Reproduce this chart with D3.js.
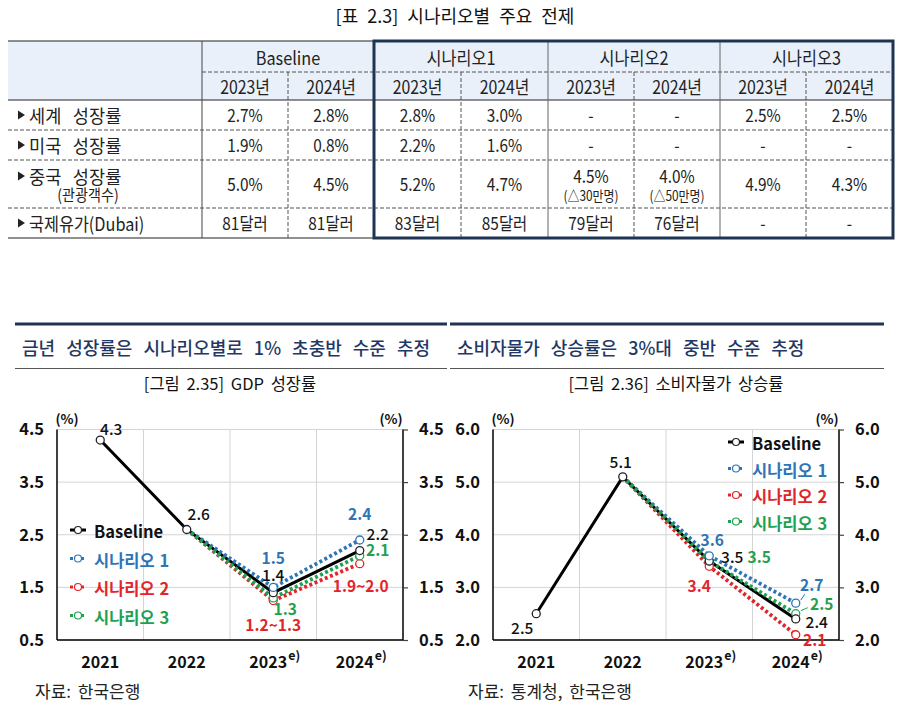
<!DOCTYPE html>
<html><head><meta charset="utf-8">
<script src="https://cdn.jsdelivr.net/npm/d3@7"></script>
<style>body{margin:0;background:#fff} svg{display:block}</style>
</head><body><svg id="c" width="909" height="710"></svg>
<script>
// ---------- DATA ----------
const tableTitle = "[표 2.3] 시나리오별 주요 전제";
const tableGroups = ["Baseline", "시나리오1", "시나리오2", "시나리오3"];
const tableYears = ["2023년", "2024년"];
const tableRowLabels = ["세계 성장률", "미국 성장률", "중국 성장률", "국제유가(Dubai)"];
const tableRowSubLabels = ["", "", "(관광객수)", ""];
const tableValues = [
  ["2.7%", "2.8%", "2.8%", "3.0%", "-", "-", "2.5%", "2.5%"],
  ["1.9%", "0.8%", "2.2%", "1.6%", "-", "-", "-", "-"],
  ["5.0%", "4.5%", "5.2%", "4.7%", "4.5%", "4.0%", "4.9%", "4.3%"],
  ["81달러", "81달러", "83달러", "85달러", "79달러", "76달러", "-", "-"]
];
const tableNotes = [
  ["", "", "", "", "", "", "", ""],
  ["", "", "", "", "", "", "", ""],
  ["", "", "", "", "(△30만명)", "(△50만명)", "", ""],
  ["", "", "", "", "", "", "", ""]
];

const years = ["2021", "2022", "2023", "2024"];
const yearSup = ["", "", "e)", "e)"];
const seriesNames = ["Baseline", "시나리오 1", "시나리오 2", "시나리오 3"];

const gdpHeading = "금년 성장률은 시나리오별로 1% 초충반 수준 추정";
const gdpTitle = "[그림 2.35] GDP 성장률";
const gdpSource = "자료: 한국은행";
const gdpTicks = [0.5, 1.5, 2.5, 3.5, 4.5];
const gdpBaseline = [4.3, 2.6, 1.4, 2.2];
const gdpScenario1 = [null, 2.6, 1.5, 2.4];
const gdpScenario2 = [null, 2.6, 1.25, 1.95];
const gdpScenario3 = [null, 2.6, 1.3, 2.1];
const gdpLabelsBaseline = ["4.3", "2.6", "1.4", "2.2"];
const gdpLabelsScenario1 = ["", "", "1.5", "2.4"];
const gdpLabelsScenario2 = ["", "", "1.2~1.3", "1.9~2.0"];
const gdpLabelsScenario3 = ["", "", "1.3", "2.1"];

const cpiHeading = "소비자물가 상승률은 3%대 중반 수준 추정";
const cpiTitle = "[그림 2.36] 소비자물가 상승률";
const cpiSource = "자료: 통계청, 한국은행";
const cpiTicks = [2.0, 3.0, 4.0, 5.0, 6.0];
const cpiBaseline = [2.5, 5.1, 3.5, 2.4];
const cpiScenario1 = [null, 5.1, 3.6, 2.7];
const cpiScenario2 = [null, 5.1, 3.4, 2.1];
const cpiScenario3 = [null, 5.1, 3.5, 2.5];
const cpiLabelsBaseline = ["2.5", "5.1", "3.5", "2.4"];
const cpiLabelsScenario1 = ["", "", "3.6", "2.7"];
const cpiLabelsScenario2 = ["", "", "3.4", "2.1"];
const cpiLabelsScenario3 = ["", "", "3.5", "2.5"];

// ---------- STYLE ----------
const FONT = "'Noto Sans CJK KR','Noto Sans',sans-serif";
const NAVY = "#1f3452";
const colors = ["#000000", "#2e75b6", "#e0262b", "#1fa152"];

const svg = d3.select("#c");

function ntext(g, x, y, str, opts = {}) {
  return g.append("g").attr("transform", `translate(${x},${y}) scale(${opts.sx || 0.9},1)`)
    .append("text")
    .attr("text-anchor", opts.anchor || "middle")
    .attr("dominant-baseline", "central")
    .attr("font-family", FONT)
    .attr("font-size", opts.size || 17)
    .attr("font-weight", opts.weight || 400)
    .attr("fill", opts.fill || "#222")
    .attr("word-spacing", opts.ws || null)
    .text(str);
}
function ptext(g, x, y, str, opts = {}) {
  return g.append("text").attr("x", x).attr("y", y)
    .attr("text-anchor", opts.anchor || "start")
    .attr("dominant-baseline", "central")
    .attr("font-family", FONT).attr("font-size", opts.size || 16)
    .attr("font-weight", opts.weight || 400)
    .attr("fill", opts.fill || "#222")
    .attr("word-spacing", opts.ws || null)
    .text(str);
}

// ---------- TABLE ----------
(function drawTable() {
  const g = svg.append("g");
  ptext(g, 455, 15, tableTitle, { size: 18, anchor: "middle", fill: "#111", ws: 5 });
  const colX = [8, 202, 288, 374, 461, 548, 634, 720, 806, 893];
  const rowY = [41, 72, 100, 130, 160, 208, 238];
  g.append("rect").attr("x", colX[0]).attr("y", rowY[0]).attr("width", colX[9] - colX[0])
    .attr("height", rowY[2] - rowY[0]).attr("fill", "#e9f0f9");
  const line = (x1, y1, x2, y2, dash, col, w) => g.append("line")
    .attr("x1", x1).attr("y1", y1).attr("x2", x2).attr("y2", y2)
    .attr("stroke", col || "#333").attr("stroke-width", w || 1)
    .attr("stroke-dasharray", dash ? "4,2" : null);
  line(colX[0], rowY[0], colX[9], rowY[0], false, "#222", 1.2);
  line(colX[1], rowY[1], colX[9], rowY[1], true, "#555");
  line(colX[0], rowY[2], colX[9], rowY[2], false, "#222", 1);
  [3, 4, 5].forEach(i => line(colX[0], rowY[i], colX[9], rowY[i], true, "#555"));
  line(colX[0], rowY[6], colX[9], rowY[6], false, "#222", 1.2);
  line(colX[1], rowY[0], colX[1], rowY[6], false, "#444");
  [5, 7].forEach(i => line(colX[i], rowY[0], colX[i], rowY[6], false, "#666"));
  [2, 4, 6, 8].forEach(i => line(colX[i], rowY[1], colX[i], rowY[6], true, "#555"));
  tableGroups.forEach((name, i) => {
    ntext(g, (colX[1 + 2 * i] + colX[3 + 2 * i]) / 2, (rowY[0] + rowY[1]) / 2 + 1, name, { size: 18.5, sx: 0.88 });
    tableYears.forEach((yr, j) => {
      ntext(g, (colX[1 + 2 * i + j] + colX[2 + 2 * i + j]) / 2, (rowY[1] + rowY[2]) / 2, yr, { size: 18, sx: 0.88 });
    });
  });
  tableRowLabels.forEach((lab, r) => {
    const y0 = rowY[r + 2], y1 = rowY[r + 3];
    const sub = tableRowSubLabels[r];
    const yc = sub ? y0 + 16 : (y0 + y1) / 2;
    g.append("path").attr("d", `M18,${yc - 4.5}L25,${yc}L18,${yc + 4.5}Z`).attr("fill", "#222");
    ntext(g, 29, yc, lab, { anchor: "start", size: 18.5, sx: r < 3 ? 0.95 : 0.88, ws: 8 });
    if (sub) ntext(g, 88, y0 + 34, sub, { size: 16, sx: 0.88 });
    tableValues[r].forEach((v, c) => {
      const cx = (colX[c + 1] + colX[c + 2]) / 2;
      const note = tableNotes[r][c];
      if (note) {
        ntext(g, cx, y0 + 16, v, { size: 17.5, sx: 0.88 });
        ntext(g, cx, y0 + 35, note, { size: 14, sx: 0.85 });
      } else {
        ntext(g, cx, (y0 + y1) / 2, v, { size: 17.5, sx: 0.88 });
      }
    });
  });
  g.append("rect").attr("x", colX[3]).attr("y", rowY[0]).attr("width", colX[9] - colX[3])
    .attr("height", rowY[6] - rowY[0]).attr("fill", "none").attr("stroke", NAVY).attr("stroke-width", 3);
})();

// ---------- CHARTS ----------
function drawChart(cfg) {
  const g = svg.append("g");
  g.append("line").attr("x1", cfg.panel[0]).attr("x2", cfg.panel[1]).attr("y1", 324).attr("y2", 324)
    .attr("stroke", NAVY).attr("stroke-width", 3.2);
  g.append("line").attr("x1", cfg.panel[0]).attr("x2", cfg.panel[1]).attr("y1", 368.5).attr("y2", 368.5)
    .attr("stroke", "#555").attr("stroke-width", 1);
  ptext(g, cfg.heading[1], 347, cfg.heading[0], { size: 18, weight: 500, fill: "#1f3864", ws: 7 });
  ptext(g, cfg.title[1], 383, cfg.title[0], { size: 16.5, fill: "#111", anchor: "middle", ws: 3 });

  const x = d3.scaleBand().domain(years).range(cfg.xRange).padding(0);
  const cx = d => x(d) + x.bandwidth() / 2;
  const y = d3.scaleLinear().domain(cfg.yDomain).range([640, 429.5]);
  const [L, R] = cfg.xRange;

  g.append("g").selectAll("line").data(cfg.ticks).join("line")
    .attr("x1", L).attr("x2", R).attr("y1", d => y(d)).attr("y2", d => y(d))
    .attr("stroke", "#d4d4d4").attr("stroke-width", 1);
  g.append("g").selectAll("line").data(years.slice(1)).join("line")
    .attr("x1", d => x(d)).attr("x2", d => x(d)).attr("y1", y(cfg.yDomain[0])).attr("y2", y(cfg.yDomain[1]))
    .attr("stroke", "#d4d4d4").attr("stroke-width", 1);

  const fmt = d3.format(".1f");
  const leftAxis = d3.axisLeft(y).tickValues(cfg.ticks).tickSize(0).tickPadding(13).tickFormat(fmt);
  const rightAxis = d3.axisRight(y).tickValues(cfg.ticks).tickSize(5).tickPadding(11).tickFormat(fmt);
  const bottomAxis = d3.axisBottom(x).tickSize(0).tickPadding(0).tickFormat(() => "");
  const styleAxis = a => {
    a.select(".domain").attr("stroke", "#000").attr("stroke-width", 1.5);
    a.selectAll(".tick line").attr("stroke", "#444").attr("stroke-width", 1.2);
    a.selectAll("text").attr("font-family", FONT).attr("font-size", 16.5).attr("font-weight", 700).attr("fill", "#111");
  };
  g.append("g").attr("transform", `translate(${L},0)`).call(leftAxis).call(styleAxis)
    .call(a => a.select(".domain").attr("d", `M0,${y(cfg.yDomain[0])}V${y(cfg.yDomain[1])}`));
  g.append("g").attr("transform", `translate(${R},0)`).call(rightAxis).call(styleAxis)
    .call(a => a.select(".domain").attr("d", `M0,${y(cfg.yDomain[0])}V${y(cfg.yDomain[1])}`));
  g.append("g").attr("transform", `translate(0,${y(cfg.yDomain[0])})`).call(bottomAxis).call(styleAxis)
    .call(a => a.select(".domain").attr("d", `M${L},0H${R}`));

  years.forEach((yr, i) => {
    const xc = cx(yr) - (yearSup[i] ? 5 : 0);
    g.append("text").attr("x", xc).attr("y", 668).attr("text-anchor", "middle")
      .attr("font-family", FONT).attr("font-size", 16).attr("font-weight", 700).attr("fill", "#111").text(yr);
    if (yearSup[i]) g.append("text").attr("x", xc + 20).attr("y", 660)
      .attr("font-family", FONT).attr("font-size", 12.5).attr("font-weight", 700).attr("fill", "#111").text(yearSup[i]);
  });
  [L + 10, R - 12].forEach(ux =>
    g.append("text").attr("x", ux).attr("y", 424).attr("text-anchor", "middle")
      .attr("font-family", FONT).attr("font-size", 13.5).attr("font-weight", 700).attr("fill", "#111").text("(%)"));

  const lineGen = d3.line().defined(d => d.v != null).x(d => cx(d.k)).y(d => y(d.v));
  const toPts = arr => arr.map((v, i) => ({ k: years[i], v }));
  [0, 2, 1, 3].forEach(si => {
    g.append("path").datum(toPts(cfg.series[si])).attr("d", lineGen).attr("fill", "none")
      .attr("stroke", colors[si]).attr("stroke-width", si === 0 ? 3 : 3.8)
      .attr("stroke-dasharray", si === 0 ? null : "3,2.6");
  });
  [2, 3, 0, 1].forEach(si => {
    const pts = toPts(cfg.series[si]).filter((d, i) => d.v != null && (si === 0 || i >= 2));
    g.append("g").selectAll("circle").data(pts).join("circle")
      .attr("cx", d => cx(d.k)).attr("cy", d => y(d.v)).attr("r", 4)
      .attr("fill", "#fff").attr("stroke", si === 0 ? "#222" : colors[si]).attr("stroke-width", 1.3);
  });

  cfg.labels.forEach((labs, si) => {
    labs.forEach((txt, i) => {
      if (!txt) return;
      const off = cfg.offsets[si][i];
      const px = cx(years[i]), py = y(cfg.series[si][i]);
      g.append("text").attr("x", px + off[0]).attr("y", py + off[1]).attr("text-anchor", "middle")
        .attr("dominant-baseline", "central").attr("font-family", FONT).attr("font-size", 15.5)
        .attr("font-weight", si === 0 ? 500 : 600).attr("fill", si === 0 ? "#111" : colors[si]).text(txt);
      if (off[2]) {
        g.append("line").attr("x1", px + off[2][0]).attr("y1", py + off[2][1]).attr("x2", px + 5).attr("y2", py - 3)
          .attr("stroke", colors[si]).attr("stroke-width", 1);
      }
    });
  });

  seriesNames.forEach((name, si) => {
    const ly = cfg.legend[1] + si * cfg.legend[2];
    const lx = cfg.legend[0];
    g.append("line").attr("x1", lx).attr("x2", lx + 16).attr("y1", ly).attr("y2", ly)
      .attr("stroke", colors[si]).attr("stroke-width", 3).attr("stroke-dasharray", si === 0 ? null : "3,2.5");
    g.append("circle").attr("cx", lx + 8).attr("cy", ly).attr("r", 3.5).attr("fill", "#fff")
      .attr("stroke", si === 0 ? "#222" : colors[si]).attr("stroke-width", 1.2);
    ptext(g, lx + 24, ly + 1, name,
      { size: 16.5, weight: si === 0 ? 700 : 600, fill: si === 0 ? "#111" : colors[si], ws: 1 });
  });

  ptext(g, cfg.source[1], 690, cfg.source[0], { size: 17, fill: "#222", ws: 3 });
}

drawChart({
  panel: [15, 447], heading: [gdpHeading, 22], title: [gdpTitle, 230], source: [gdpSource, 35],
  xRange: [57, 403], yDomain: [0.5, 4.5], ticks: gdpTicks,
  series: [gdpBaseline, gdpScenario1, gdpScenario2, gdpScenario3],
  labels: [gdpLabelsBaseline, gdpLabelsScenario1, gdpLabelsScenario2, gdpLabelsScenario3],
  offsets: [
    [[11, -12], [12, -16], [0, -19], [18, -18]],
    [null, null, [0, -30], [0, -27]],
    [null, null, [0, 23], [1, 21]],
    [null, null, [12, 10], [18, -7]]
  ],
  legend: [70, 530, 28.5]
});
drawChart({
  panel: [450, 884], heading: [cpiHeading, 457], title: [cpiTitle, 676], source: [cpiSource, 468],
  xRange: [493, 839], yDomain: [2, 6], ticks: cpiTicks,
  series: [cpiBaseline, cpiScenario1, cpiScenario2, cpiScenario3],
  labels: [cpiLabelsBaseline, cpiLabelsScenario1, cpiLabelsScenario2, cpiLabelsScenario3],
  offsets: [
    [[-14, 13], [-2, -16], [23, -5], [21, 2]],
    [null, null, [3, -17], [16, -19, [9, -9]]],
    [null, null, [-10, 19], [19, 4]],
    [null, null, [50, -5], [26, -11, [12, -6]]]
  ],
  legend: [728, 442, 26.5]
});
</script></body></html>
